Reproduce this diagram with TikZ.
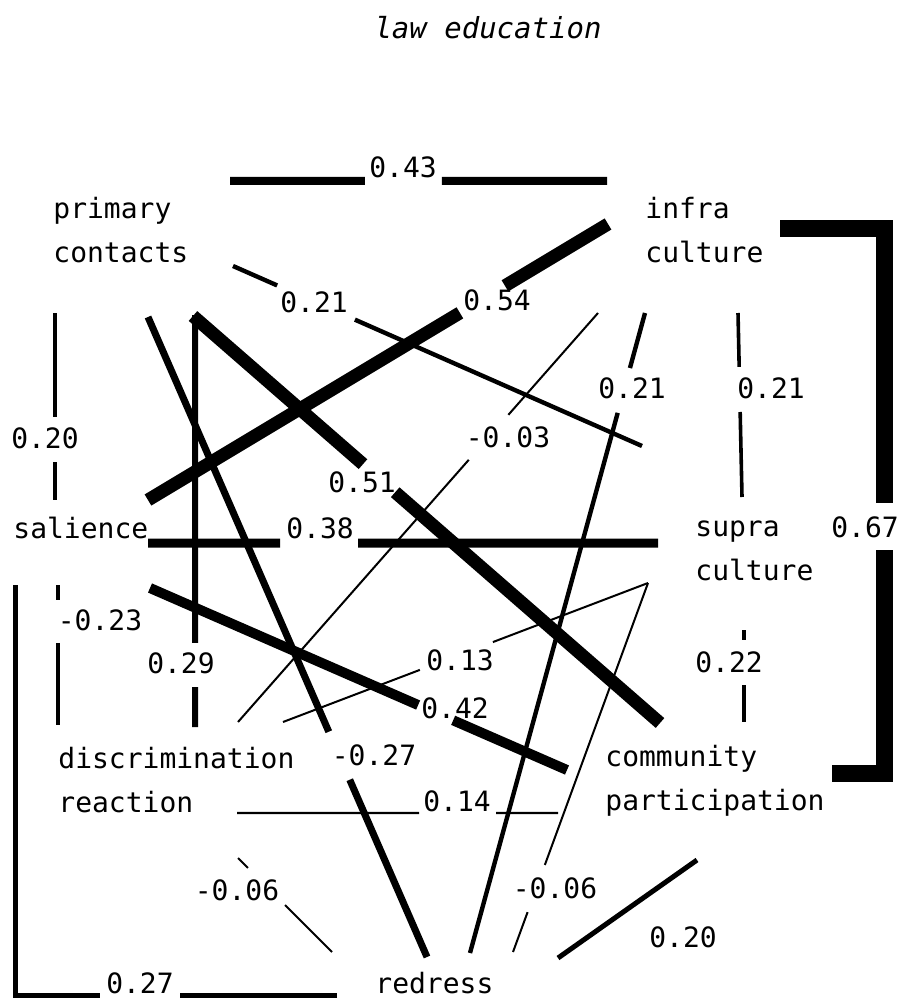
\documentclass[tikz,border=0pt]{standalone}
\usepackage{fontspec}
\setmainfont{DejaVu Sans Mono}
\usetikzlibrary{calc}
\begin{document}
\begin{tikzpicture}[
x=0.5pt, y=-0.5pt,
font=\fontsize{14}{22}\selectfont,
var/.style={anchor=base west, inner sep=0pt, align=left},
coef/.style={inner sep=0pt},
split/.style 2 args={to path={(\tikztostart) -- ($(\tikztostart)!#1!(\tikztotarget)$)
  ($(\tikztostart)!#2!(\tikztotarget)$) -- (\tikztotarget)}}
]
\useasboundingbox (0,0) rectangle (900,1000);

\node[font=\fontsize{14.5}{18}\selectfont\itshape] (title) at (488,28) {law education};

% variables (base = last line)
\node[var] (pc) at (53,263) {primary\\contacts};
\node[var] (ic) at (645,263) {infra\\culture};
\node[var] (sal) at (13,538) {salience};
\node[var] (sc) at (695,580) {supra\\culture};
\node[var] (dr) at (58,812) {discrimination\\reaction};
\node[var] (cp) at (605,810) {community\\participation};
\node[var] (red) at (375,993) {redress};

% line ends
\coordinate (pc-ic) at (230,181);  \coordinate (ic-pc) at (607,181);
\coordinate (pc-sc) at (233,266);  \coordinate (sc-pc) at (642,446);
\coordinate (sal-ic) at (148,500); \coordinate (ic-sal) at (608,224);
\coordinate (pc-cp) at (193,316);  \coordinate (cp-pc) at (660,723);
\coordinate (pc-dr) at (195,315);  \coordinate (dr-pc) at (195,727);
\coordinate (pc-red) at (148,317); \coordinate (red-pc) at (427,957);
\coordinate (pc-sal) at (55,313);  \coordinate (sal-pc) at (55,500);
\coordinate (ic-sc) at (738,313);  \coordinate (sc-ic) at (742,497);
\coordinate (ic-red) at (645,313); \coordinate (red-ic) at (470,953);
\coordinate (ic-dr) at (598,313);  \coordinate (dr-ic) at (238,722);
\coordinate (ic-cp) at (780,229);  \coordinate (cp-ic) at (832,773);
\coordinate (sal-sc) at (148,543); \coordinate (sc-sal) at (658,543);
\coordinate (sal-dr) at (58,585);  \coordinate (dr-sal) at (58,725);
\coordinate (sal-cp) at (150,588); \coordinate (cp-sal) at (567,770);
\coordinate (sal-red) at (15,585); \coordinate (red-sal) at (337,995);
\coordinate (sc-cp) at (744,630);  \coordinate (cp-sc) at (744,722);
\coordinate (sc-dr) at (648,583);  \coordinate (dr-sc) at (283,722);
\coordinate (sc-red) at (648,583); \coordinate (red-sc) at (513,952);
\coordinate (dr-cp) at (237,813);  \coordinate (cp-dr) at (558,813);
\coordinate (dr-red) at (238,858); \coordinate (red-dr) at (332,952);
\coordinate (cp-red) at (697,860); \coordinate (red-cp) at (558,958);

% paths
\draw[line width=4pt, split={.358}{.562}] (pc-ic) to (ic-pc);
\node[coef] (c-pc-ic) at (403,167) {0.43};
\draw[line width=2.2pt, split={.108}{.298}] (pc-sc) to (sc-pc);
\node[coef] (c-pc-sc) at (314,302) {0.21};
\draw[line width=6.5pt, split={.678}{.776}] (sal-ic) to (ic-sal);
\node[coef] (c-sal-ic) at (497,300) {0.54};
\draw[line width=6.5pt, split={.364}{.433}] (pc-cp) to (cp-pc);
\node[coef] (c-pc-cp) at (362,482) {0.51};
\draw[line width=3pt, split={.796}{.903}] (pc-dr) to (dr-pc);
\node[coef] (c-pc-dr) at (181,663) {0.29};
\draw[line width=3.5pt, split={.648}{.723}] (pc-red) to (red-pc);
\node[coef] (c-pc-red) at (374,755) {-0.27};
\draw[line width=2pt, split={.556}{.797}] (pc-sal) to (sal-pc);
\node[coef] (c-pc-sal) at (45,438) {0.20};
\draw[line width=1.8pt, split={.293}{.538}] (ic-sc) to (sc-ic);
\node[coef] (c-ic-sc) at (771,388) {0.21};
\draw[line width=2.2pt, split={.086}{.156}] (ic-red) to (red-ic);
\node[coef] (c-ic-red) at (632,388) {0.21};
\draw[line width=1pt, split={.249}{.359}] (ic-dr) to (dr-ic);
\node[coef] (c-ic-dr) at (508,437) {-0.03};
\draw[line width=8.5pt] (ic-cp) -| ++(104,274);
\draw[line width=8.5pt] (cp-ic) -| ++(52,-223);
\node[coef] (c-ic-cp) at (865,527) {0.67};
\draw[line width=4.5pt, split={.259}{.412}] (sal-sc) to (sc-sal);
\node[coef] (c-sal-sc) at (320,528) {0.38};
\draw[line width=2pt, split={.107}{.414}] (sal-dr) to (dr-sal);
\node[coef] (c-sal-dr) at (100,620) {-0.23};
\draw[line width=5pt, split={.643}{.727}] (sal-cp) to (cp-sal);
\node[coef] (c-sal-cp) at (455,708) {0.42};
\draw[line width=2.5pt] (sal-red) |- ++(85,410);
\draw[line width=2.5pt] (red-sal) -- ++(-157,0);
\node[coef] (c-sal-red) at (140,983) {0.27};
\draw[line width=2pt, split={.109}{.598}] (sc-cp) to (cp-sc);
\node[coef] (c-sc-cp) at (729,662) {0.22};
\draw[line width=1pt, split={.425}{.625}] (sc-dr) to (dr-sc);
\node[coef] (c-sc-dr) at (460,660) {0.13};
\draw[line width=1pt, split={.764}{.892}] (sc-red) to (red-sc);
\node[coef] (c-sc-red) at (555,888) {-0.06};
\draw[line width=1.2pt, split={.567}{.807}] (dr-cp) to (cp-dr);
\node[coef] (c-dr-cp) at (457,801) {0.14};
\draw[line width=1pt, split={.106}{.5}] (dr-red) to (red-dr);
\node[coef] (c-dr-red) at (237,890) {-0.06};
\draw[line width=2.5pt] (cp-red) -- (red-cp);
\node[coef] (c-cp-red) at (683,937) {0.20};

\end{tikzpicture}
\end{document}
